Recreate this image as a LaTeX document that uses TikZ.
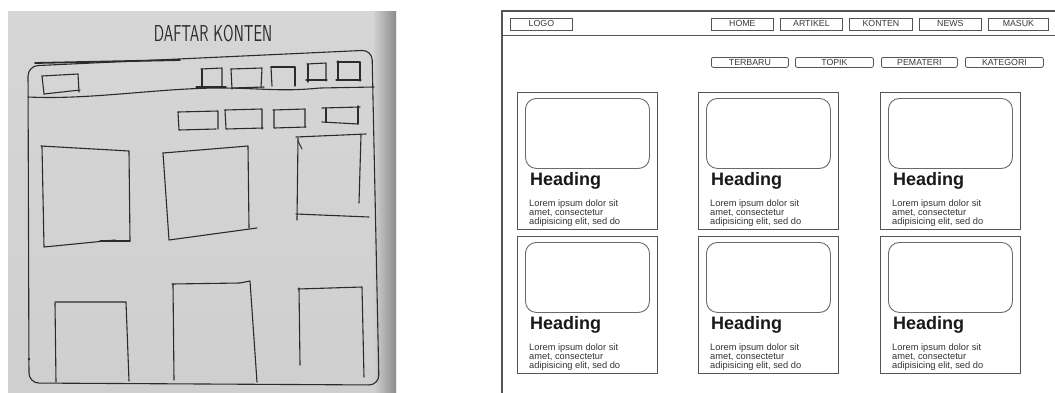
\documentclass[tikz,border=0pt]{standalone}
\usepackage{fontspec}
\setmainfont{Liberation Sans}
\definecolor{paper}{HTML}{CFCFCF}
\definecolor{paperlight}{HTML}{D6D6D6}
\definecolor{paperdark}{HTML}{8C8C8C}
\definecolor{ink}{HTML}{2B2B2B}
\definecolor{wire}{HTML}{555555}
\definecolor{btntext}{HTML}{3A3A3A}
\definecolor{imgline}{HTML}{6A6A6A}
\definecolor{bodytext}{HTML}{333333}
\begin{document}
\begin{tikzpicture}[x=1pt,y=-1pt,
  pen/.style={draw=ink, line width=1.1pt, line cap=round, line join=round},
  frameline/.style={draw=wire, line width=1.1pt},
  navbtn/.style={draw=wire, line width=0.8pt, minimum height=12pt, inner sep=0pt,
    font=\fontsize{8.8}{8.8}\selectfont, text=btntext, anchor=north west},
  subbtn/.style={navbtn, rounded corners=2pt, minimum height=10pt},
  card/.style={draw=wire, line width=0.9pt, minimum width=140pt, minimum height=137pt,
    inner sep=0pt, anchor=north west},
  cardimg/.style={draw=imgline, line width=0.9pt, rounded corners=11pt, minimum width=124pt,
    minimum height=70pt, inner sep=0pt, anchor=north west},
  headtext/.style={font=\bfseries\fontsize{18}{18}\selectfont, text=black!90, inner sep=0pt, anchor=base west},
  lorem/.style={font=\fontsize{9.3}{9}\selectfont, text=bodytext, inner sep=0pt, anchor=base west}
]
\useasboundingbox (0,0) rectangle (1055,392);
\fill[white] (0,0) rectangle (1055,392);

% ---------------- photo of the sketch ----------------
\shade[top color=paperlight, bottom color=paper] (8,11) rectangle (396,392);
\shade[left color=paper, right color=paperdark] (374,11) rectangle (396,392);

\node[font=\sffamily\fontsize{23}{23}\selectfont, text=ink, xscale=0.66] (title) at (213,34) {DAFTAR KONTEN};

% outer frame
\draw[pen, rounded corners=10pt] (28,66) -- (372,50) -- (379,385) -- (29,383) -- cycle;
\draw[ink, line width=1.8pt, line cap=round] (35,63) -- (180,60);
% header line
\draw[pen] (28,97) .. controls (90,100) and (160,88) .. (220,88) .. controls (260,88) and (280,92) .. (320,88) -- (374,87);
% logo box
\draw[pen] (42,76) -- (78,74) -- (79,92); \draw[pen] (42,76) -- (44,94); \draw[pen] (44,94) -- (80,90);
% nav boxes
\draw[pen] (201,69) -- (222,68) -- (222,87); \draw[pen] (202,69) -- (202,86); \draw[pen] (196,87) -- (226,87);
\draw[pen] (231,69) -- (262,68) -- (261,88); \draw[pen] (231,69) -- (232,89); \draw[pen] (232,88) -- (264,87);
\draw[pen] (271,67) -- (295,67) -- (295,86); \draw[pen] (271,67) -- (272,86);
\draw[pen] (307,64) -- (326,63) -- (326,81); \draw[pen] (308,64) -- (308,82); \draw[pen] (306,80) -- (327,80);
\draw[pen] (337,62) -- (360,62) -- (360,81); \draw[pen] (338,61) -- (338,80); \draw[pen] (336,80) -- (361,80);
% sub nav boxes
\draw[pen] (178,112) -- (218,111) -- (218,129); \draw[pen] (178,112) -- (179,130) -- (216,129);
\draw[pen] (225,110) -- (262,109) -- (262,129); \draw[pen] (225,110) -- (226,129) -- (263,128);
\draw[pen] (273,110) -- (305,109) -- (305,127); \draw[pen] (274,110) -- (274,128) -- (306,127);
\draw[pen] (322,108) -- (360,107); \draw[pen] (358,106) -- (358,124); \draw[pen] (326,108) -- (326,122); \draw[pen] (322,122) -- (358,124);
% big boxes row 1
\draw[pen] (41,146) -- (129,151) -- (130,241); \draw[pen] (42,146) -- (44,247) -- (115,240); \draw[pen] (100,241) -- (130,241);
\draw[pen] (163,153) -- (248,146) -- (249,228); \draw[pen] (163,153) -- (169,240) -- (257,228);
\draw[pen] (296,137) -- (366,134); \draw[pen] (361,135) -- (359,203); \draw[pen] (298,138) -- (297,220); \draw[pen] (296,214) -- (369,217);
\draw[pen] (298,141) -- (302,149);
% big boxes row 2
\draw[pen] (55,303) -- (56,382); \draw[pen] (55,302) -- (126,302) -- (129,381);
\draw[pen] (173,284) -- (174,380); \draw[pen] (172,284) -- (240,283) -- (250,281) -- (257,382);
\draw[pen] (299,288) -- (300,365); \draw[pen] (298,289) -- (362,287) -- (364,377);
\fill[ink] (29,359) circle (1.4pt);

% ---------------- wireframe ----------------
\draw[frameline] (1056,11) -- (502,11) -- (502,393);
\draw[frameline] (502,35.5) -- (1056,35.5);

\node[navbtn, minimum width=62pt] (logo) at (510,17.5) {LOGO};
\node[navbtn, minimum width=62pt] (home) at (711,17.5) {HOME};
\node[navbtn, minimum width=62pt] (artikel) at (780,17.5) {ARTIKEL};
\node[navbtn, minimum width=63pt] (konten) at (849,17.5) {KONTEN};
\node[navbtn, minimum width=62pt] (news) at (919,17.5) {NEWS};
\node[navbtn, minimum width=60pt] (masuk) at (988,17.5) {MASUK};

\node[subbtn, minimum width=77pt] (terbaru) at (711,57) {TERBARU};
\node[subbtn, minimum width=78pt] (topik) at (795,57) {TOPIK};
\node[subbtn, minimum width=76pt] (pemateri) at (881,57) {PEMATERI};
\node[subbtn, minimum width=78pt] (kategori) at (965,57) {KATEGORI};

\foreach \r/\y in {1/92, 2/236} {
  \foreach \c/\x in {1/517, 2/698, 3/880} {
    \node[card] (card-\r-\c) at (\x,\y) {};
    \node[cardimg] (img-\r-\c) at (\x+8,\y+6) {};
    \node[headtext] (head-\r-\c) at (\x+13,\y+93) {Heading};
    \node[lorem] (loremA-\r-\c) at (\x+12,\y+114) {Lorem ipsum dolor sit};
    \node[lorem] (loremB-\r-\c) at (\x+12,\y+123) {amet, consectetur};
    \node[lorem] (loremC-\r-\c) at (\x+12,\y+132) {adipisicing elit, sed do};
  }
}
\end{tikzpicture}
\end{document}
